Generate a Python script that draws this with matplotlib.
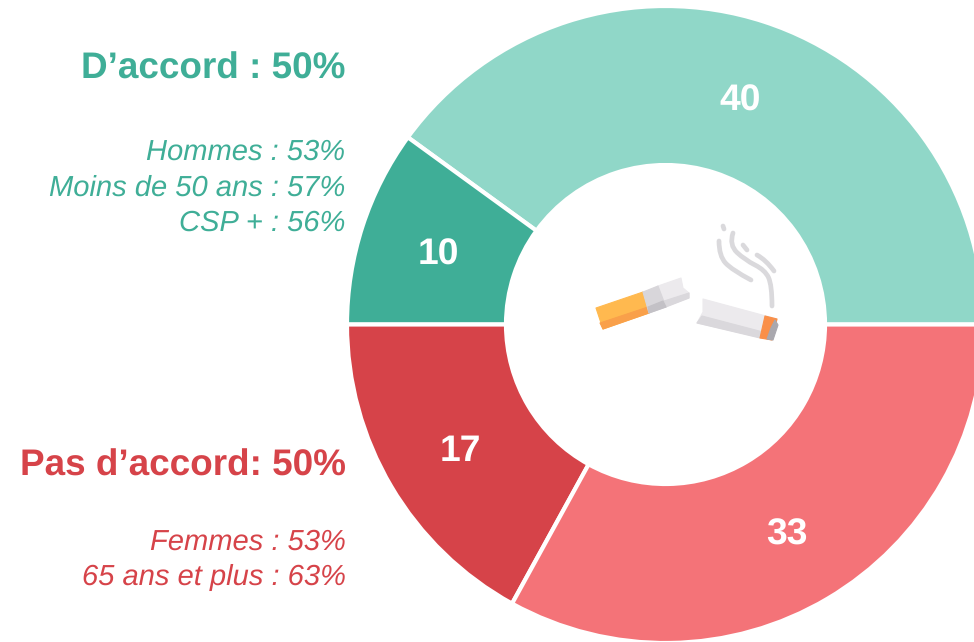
import matplotlib
matplotlib.use("Agg")
import matplotlib.pyplot as plt
from matplotlib.patches import Polygon, PathPatch
from matplotlib.path import Path

plt.rcParams['font.family'] = ['Liberation Sans', 'DejaVu Sans']
plt.rcParams['text.hinting'] = 'none'

W, H = 974, 642
values = [40, 10, 17, 33]
colors = ['#90D7C8', '#3FAE97', '#D64349', '#F47378']
labels = ['40', '10', '17', '33']
label_xy = [(740, 101), (438, 255), (460, 451), (787, 535)]

head_agree = "D’accord : 50%"
lines_agree = ["Hommes : 53%", "Moins de 50 ans : 57%", "CSP + : 56%"]
head_dis = "Pas d’accord: 50%"
lines_dis = ["Femmes : 53%", "65 ans et plus : 63%"]

fig = plt.figure(figsize=(W/100, H/100), dpi=100)

cx, cy, R, r = 665.5, 324.5, 318.5, 159.5
pa = fig.add_axes([(cx-R)/W, 1-(cy+R)/H, 2*R/W, 2*R/H])
pa.pie(values, colors=colors, startangle=0, counterclock=True, radius=1,
       wedgeprops=dict(width=1-r/R, edgecolor='white', linewidth=3))
pa.set_xlim(-1, 1); pa.set_ylim(-1, 1)
pa.patch.set_alpha(0)
pa.set_zorder(1)

ov = fig.add_axes([0, 0, 1, 1])
ov.set_xlim(0, W); ov.set_ylim(H, 0); ov.axis('off'); ov.patch.set_alpha(0)
ov.set_zorder(2)

for t, (x, y) in zip(labels, label_xy):
    ov.text(x, y, t, color='white', fontsize=26.8, fontweight='bold', ha='center', va='center')

green, red = '#3FAE97', '#D64349'
ov.text(345.5, 69, head_agree, color=green, fontsize=26.6, fontweight='bold', ha='right', va='center')
for t, y in zip(lines_agree, [152.5, 188.5, 223.5]):
    ov.text(345.5, y, t, color=green, fontsize=21.0, style='italic', ha='right', va='center')
ov.text(345.5, 466, head_dis, color=red, fontsize=26.6, fontweight='bold', ha='right', va='center')
for t, y in zip(lines_dis, [542.5, 577.5]):
    ov.text(345.5, y, t, color=red, fontsize=21.0, style='italic', ha='right', va='center')

def poly(pts, fc):
    ov.add_patch(Polygon(pts, fc=fc, ec=fc, lw=0.8, joinstyle='round'))

# left cigarette piece
poly([(596,308),(643,292),(649,313),(603,329)], '#FFB94F')
poly([(600,323),(648,307),(649,313),(603,329)], '#F9A04A')
poly([(658,286),(681,278),(683,288),(689,293),(689,298),(664,307)], '#ECEAED')
poly([(664,301),(689,293),(689,298),(666,307)], '#DAD8DC')
poly([(643,292),(658,286),(666,307),(649,313)], '#D8D6DA')
poly([(648,307),(663,301),(666,307),(649,313)], '#C3C1C6')
# right cigarette piece
poly([(703,299),(777,319),(772,340),(697,323),(703,312)], '#ECEAED')
poly([(702,316),(763,332),(760,338),(697,323)], '#DAD8DC')
poly([(765,316),(777,319),(772,340),(760,338)], '#FA8F48')
poly([(775,320),(778,325),(773,340),(767,339),(771,328)], '#A9A8AE')

def smooth(pts):
    verts, codes = [pts[0]], [Path.MOVETO]
    for i in range(1, len(pts)-1):
        end = pts[i+1] if i == len(pts)-2 else ((pts[i][0]+pts[i+1][0])/2, (pts[i][1]+pts[i+1][1])/2)
        verts += [pts[i], end]
        codes += [Path.CURVE3, Path.CURVE3]
    return Path(verts, codes)

smoke = [[(733,233),(729,245),(745,260),(765,270),(772,285),(772,306)],
         [(719,241),(719,256),(732,270),(751,280)],
         [(723,226),(724,229)],
         [(743,245),(747,250)],
         [(757,255),(766,260),(774,271)]]
for s in smoke:
    path = smooth(s) if len(s) > 2 else Path(s)
    ov.add_patch(PathPatch(path, fc='none', ec='#DAD9DC', lw=3.4, capstyle='round', joinstyle='round'))

fig.savefig('out.png', dpi=100)
